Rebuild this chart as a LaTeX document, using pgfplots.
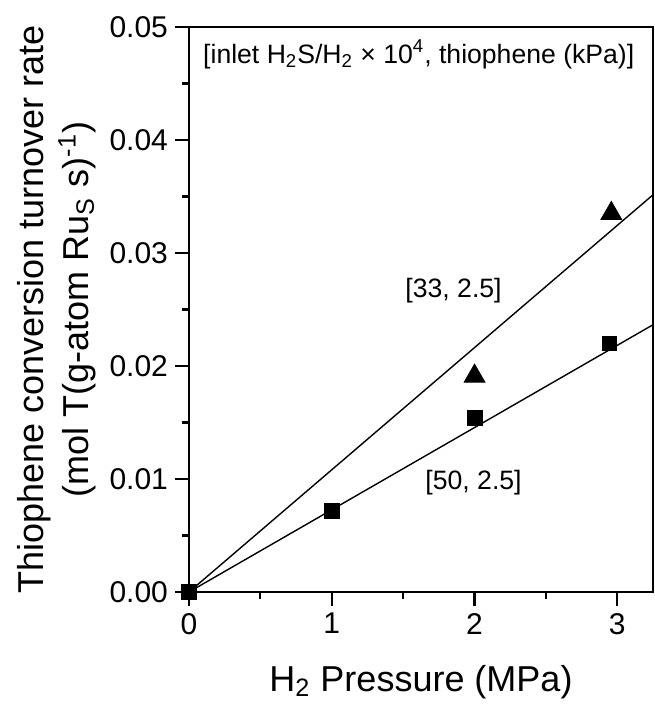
\documentclass[border=0pt]{standalone}
\usepackage{fontspec}
\setmainfont{Liberation Sans}
\usepackage{pgfplots}
\pgfplotsset{compat=1.18}
\usetikzlibrary{calc}

\begin{document}
\begin{tikzpicture}
\begin{axis}[
    scale only axis,
    width=232pt, height=282.5pt,
    xmin=0, xmax=3.25,
    ymin=0, ymax=0.05,
    xtick={0,1,2,3},
    ytick={0,0.01,0.02,0.03,0.04,0.05},
    minor x tick num=1, minor y tick num=1,
    tick pos=left, tick align=outside,
    major tick length=7pt, minor tick length=3.5pt,
    axis line style={line width=1.1pt},
    every tick/.style={line width=1.1pt, black},
    scaled y ticks=false,
    yticklabel style={/pgf/number format/.cd, fixed, fixed zerofill, precision=2},
    /pgf/number format/assume math mode=true,
    tick label style={font=\fontsize{15}{18}\selectfont},
    xlabel={H\textsubscript{2} Pressure (MPa)},
    ylabel={Thiophene conversion turnover rate\\[-5pt](mol T(g-atom Ru\textsubscript{S} s)\textsuperscript{-1})},
    label style={font=\fontsize{18}{27.5}\selectfont},
    xlabel style={at={(axis description cs:0.5,0)}, anchor=base, yshift=-49.5pt},
    ylabel style={at={(axis description cs:-0.286,0.5)}, anchor=center, align=center},
  ]

  % fitted lines
  \addplot[black, line width=0.7pt] coordinates {(0,0) (3.25,0.03515)};
  \addplot[black, line width=0.7pt] coordinates {(0,0) (3.25,0.02365)};

  % [50, 2.5]
  \addplot[only marks, mark=square*, mark size=3.7pt, black] coordinates {
    (0,0) (1,0.00719) (2,0.0154) (2.944,0.0220)
  };
  % [33, 2.5]
  \addplot[only marks, mark=triangle*, mark size=6pt, black] coordinates {
    (2,0.0191) (2.958,0.0335)
  };

  \node[font=\fontsize{13.3}{15}\selectfont, anchor=base west] at (axis cs:0.05,0.0468)
    {[inlet H\textsubscript{2}S/H\textsubscript{2} × 10\textsuperscript{4}, thiophene (kPa)]};
  \node[font=\fontsize{13.3}{15}\selectfont] at (axis cs:1.853,0.0267) {[33, 2.5]};
  \node[font=\fontsize{13.3}{15}\selectfont] at (axis cs:1.993,0.0097) {[50, 2.5]};
\end{axis}
\pgfresetboundingbox
\path ($(current axis.south west)+(-94.5pt,-56pt)$) rectangle ($(current axis.north east)+(0.5pt,13.5pt)$);
\end{tikzpicture}
\end{document}
